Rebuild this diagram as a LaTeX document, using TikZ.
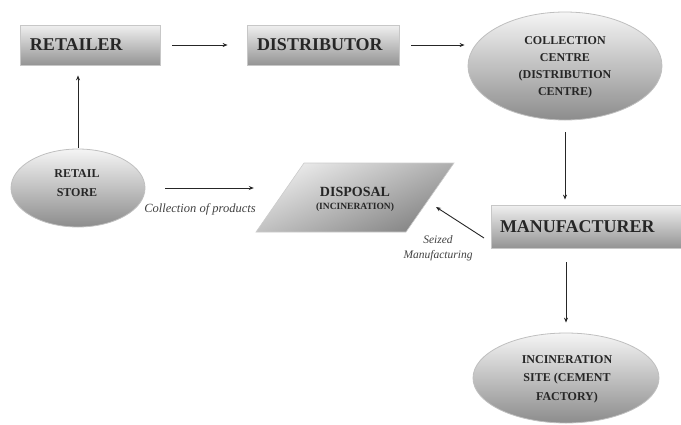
\documentclass[tikz,border=0pt]{standalone}
\usepackage{fontspec}
\setmainfont{Liberation Serif}
\usetikzlibrary{shapes.geometric,arrows.meta,calc}
\begin{document}
\begin{tikzpicture}[x=1pt,y=-1pt,
  box/.style={rectangle, draw=black!22, line width=0.8pt, top color=black!6, bottom color=black!42,
    font=\fontsize{18}{20}\selectfont\bfseries, text=black!85, align=left, inner xsep=10pt, inner ysep=0pt, minimum height=40pt},
  oval/.style={ellipse, draw=black!25, line width=0.8pt, top color=black!4, bottom color=black!45, inner sep=0pt},
  ovaltext/.style={text=black!85, align=center, inner sep=0pt},
  arr/.style={draw=black!85, line width=0.9pt, -{Stealth[length=5pt,width=4pt]}},
  lab/.style={text=black!75, align=center, inner sep=0pt}]
\useasboundingbox (0,0) rectangle (681,424);

% boxes
\node[box, text width=120pt] (ret) at (90,45) {RETAILER};
\node[box, text width=132pt] (dist) at (323,45) {DISTRIBUTOR};
\node[box, text width=181pt, minimum height=43pt, inner xsep=9pt] (man) at (590.5,226.5) {MANUFACTURER};

% ellipses
\node[oval, minimum width=194pt, minimum height=108pt] (coll) at (565,66) {};
\node[ovaltext, font=\fontsize{12}{17}\selectfont\bfseries] (colltxt) at (565,67.5) {COLLECTION\\CENTRE\\(DISTRIBUTION\\CENTRE)};
\node[oval, minimum width=186pt, minimum height=90pt] (inc) at (566,378) {};
\node[ovaltext, font=\fontsize{12}{18.5}\selectfont\bfseries] (inctxt) at (567,379) {INCINERATION\\SITE (CEMENT\\FACTORY)};
\node[oval, minimum width=134pt, minimum height=78pt] (store) at (78,188) {};
\node[ovaltext, font=\fontsize{12}{19}\selectfont\bfseries] (storetxt) at (77,183) {RETAIL\\STORE};

% disposal parallelogram
\shade[top color=black!8, bottom color=black!48, shading angle=25, draw=black!20, line width=0.6pt]
  (304,163) -- (454,163) -- (406,232) -- (256,232) -- cycle;
\node[font=\bfseries, align=center, text=black!85, inner sep=0pt, minimum width=150pt, minimum height=69pt] (disp) at (355,199)
  {{\fontsize{14}{16}\selectfont DISPOSAL}\\[1pt]{\fontsize{9.5}{11}\selectfont (INCINERATION)}};

% connectors
\draw[arr, shorten <=12pt, shorten >=19pt] (ret) -- (dist);
\draw[arr, shorten <=12pt, shorten >=3pt] (dist.east) -- (dist.east -| coll.west);
\draw[arr, shorten <=12pt, shorten >=5pt] (coll.south) -- (coll.south |- man.north);
\draw[arr, shorten <=14pt, shorten >=10pt] (inc.north |- man.south) -- (inc.north);
\draw[arr, shorten <=1pt, shorten >=10pt] (store.north) -- (store.north |- ret.south);
\draw[arr, shorten <=20pt, shorten >=26pt] (store.east) -- (store.east -| disp.west);
\coordinate (sz1) at (484,238);
\coordinate (sz2) at (436,207);
\draw[arr] (sz1) -- (sz2);

% labels
\node[lab, font=\fontsize{12.5}{14}\selectfont\itshape] (colllab) at (200,209) {Collection of products};
\node[lab, font=\fontsize{11.5}{15}\selectfont\itshape] (seizlab) at (438,248) {Seized\\Manufacturing};
\end{tikzpicture}
\end{document}
